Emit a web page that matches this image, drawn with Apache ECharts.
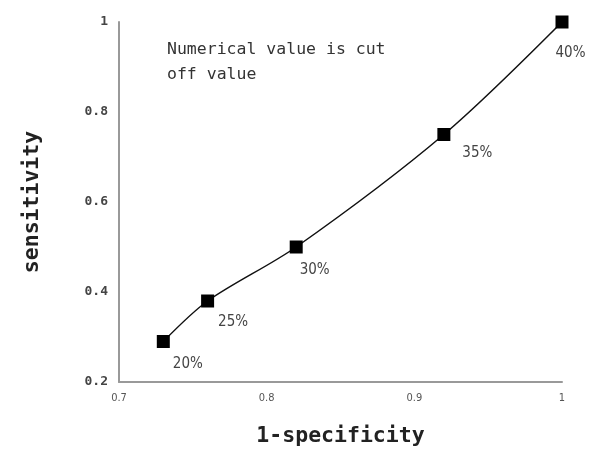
<!DOCTYPE html>
<html>
<head>
<meta charset="utf-8">
<script src="https://cdn.jsdelivr.net/npm/echarts@6/dist/echarts.min.js"></script>
<style>html,body{margin:0;padding:0;background:#fff}#c{width:594px;height:450px}</style>
</head>
<body>
<div id="c"></div>
<script>
const xValues = [0.73, 0.76, 0.82, 0.92, 1.0];
const yValues = [0.29, 0.38, 0.50, 0.75, 1.0];
const cutoffLabels = ['20%', '25%', '30%', '35%', '40%'];
const xTicks = [0.7, 0.8, 0.9, 1];
const yTicks = [0.2, 0.4, 0.6, 0.8, 1];
const noteText = 'Numerical value is cut\noff value';

// label placements (style, relative to the marker box)
const labelPos = [[16, 22], [17, 20], [10, 22], [25, 18], [0, 30]];

const chart = echarts.init(document.getElementById('c'), null, {renderer: 'canvas'});
const data = xValues.map((x, i) => ({
  value: [x, yValues[i]],
  label: {show: true, formatter: cutoffLabels[i], position: labelPos[i]}
}));
chart.setOption({
  animation: false,
  backgroundColor: '#fff',
  grid: {left: 119, right: 32, top: 22, bottom: 68, outerBoundsMode: 'none'},
  xAxis: {
    type: 'value', min: 0.7, max: 1, interval: 0.1,
    name: '1-specificity', nameLocation: 'middle', nameGap: 43,
    nameTextStyle: {fontFamily: 'DejaVu Sans Mono', fontWeight: 'bold', fontSize: 21.5, color: '#222'},
    axisLine: {lineStyle: {color: '#999', width: 2}},
    axisTick: {show: false},
    splitLine: {show: false},
    axisLabel: {margin: 11, fontSize: 11, color: '#555', fontFamily: 'DejaVu Sans Condensed',
      formatter: v => String(Math.round(v * 10) / 10)}
  },
  yAxis: {
    type: 'value', min: 0.2, max: 1, interval: 0.2,
    name: 'sensitivity', nameLocation: 'middle', nameGap: 76, nameRotate: 90,
    nameTextStyle: {fontFamily: 'DejaVu Sans Mono', fontWeight: 'bold', fontSize: 21.5, color: '#222'},
    axisLine: {show: true, lineStyle: {color: '#999', width: 2}},
    axisTick: {show: false},
    splitLine: {show: false},
    axisLabel: {margin: 11, fontSize: 13, color: '#444', fontWeight: 'bold', fontFamily: 'DejaVu Sans Mono',
      formatter: v => String(Math.round(v * 10) / 10)}
  },
  graphic: [{
    type: 'text', left: 167, top: 37,
    style: {text: noteText, fontFamily: 'DejaVu Sans Mono', fontSize: 16.5, lineHeight: 25, fill: '#333'}
  }],
  series: [{
    type: 'line', data: data, smooth: 0.3,
    symbol: 'rect', symbolSize: 13,
    itemStyle: {color: '#000'},
    lineStyle: {color: '#111', width: 1.5},
    label: {align: 'left', verticalAlign: 'top', fontSize: 15, color: '#444', fontFamily: 'DejaVu Sans Condensed'}
  }]
});
</script>
</body>
</html>
